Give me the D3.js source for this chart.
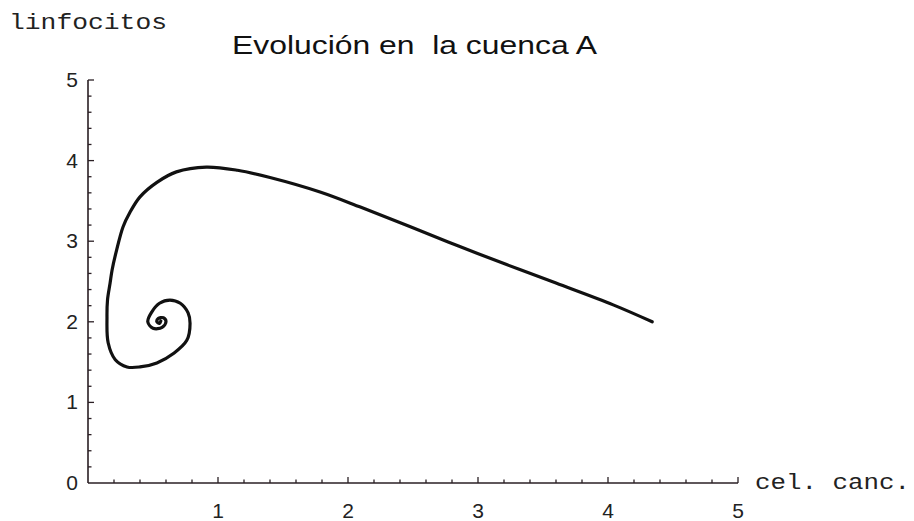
<!DOCTYPE html>
<html><head><meta charset="utf-8">
<script src="https://cdn.jsdelivr.net/npm/d3@7"></script>
<style>body{margin:0;background:#fff}svg{display:block}</style>
</head><body>
<script>
// Data: trajectory cel. canc. (x) vs linfocitos (y)
const celCanc = [4.34, 4.04, 3.60, 3.22, 2.85, 2.48, 2.10, 1.785, 1.40, 1.15, 0.91, 0.68, 0.53, 0.40, 0.32, 0.27, 0.22, 0.185, 0.17, 0.15, 0.146, 0.155, 0.21, 0.30, 0.40, 0.53, 0.66, 0.76, 0.785, 0.77, 0.71, 0.63, 0.55, 0.49, 0.46, 0.50, 0.57, 0.60, 0.58, 0.54, 0.53, 0.55, 0.56];
const linfocitos = [2.00, 2.21, 2.48, 2.71, 2.94, 3.18, 3.42, 3.61, 3.79, 3.88, 3.92, 3.86, 3.73, 3.55, 3.35, 3.18, 2.89, 2.64, 2.48, 2.27, 2.06, 1.74, 1.53, 1.44, 1.44, 1.49, 1.61, 1.77, 1.98, 2.11, 2.23, 2.27, 2.23, 2.12, 2.00, 1.92, 1.93, 2.00, 2.05, 2.04, 2.00, 1.98, 2.01];
const xTicks = [1, 2, 3, 4, 5];
const yTicks = [0, 1, 2, 3, 4, 5];
const title = "Evolución en\u00a0 la cuenca A";
const xLabel = "cel. canc.";
const yLabel = "linfocitos";

const W = 914, H = 521;
const svg = d3.select("body").append("svg").attr("width", W).attr("height", H);
const x = d3.scaleLinear().domain([0, 5]).range([88, 738]);
const y = d3.scaleLinear().domain([0, 5]).range([483, 80]);
const axisColor = "#2a1f24";

// x axis
const gx = svg.append("g").attr("transform", `translate(0,${y(0)})`);
gx.append("line").attr("x1", x(0)).attr("x2", x(5)).attr("stroke", axisColor).attr("stroke-width", 1.6);
const xMinor = d3.range(1, 26).map(i => i / 5);
gx.selectAll("line.t").data(xMinor).join("line").attr("class", "t")
  .attr("x1", d => x(d)).attr("x2", d => x(d)).attr("y1", 0)
  .attr("y2", d => Math.abs(d - Math.round(d)) < 1e-6 ? -6 : -3.5)
  .attr("stroke", axisColor).attr("stroke-width", 1.3);
gx.selectAll("text").data(xTicks).join("text")
  .attr("x", d => x(d)).attr("y", 35).attr("text-anchor", "middle")
  .attr("font-family", "Liberation Sans, Arial, sans-serif").attr("font-size", 21).attr("fill", "#222")
  .text(d => d);

// y axis
const gy = svg.append("g").attr("transform", `translate(${x(0)},0)`);
gy.append("line").attr("y1", y(0)).attr("y2", y(5)).attr("stroke", axisColor).attr("stroke-width", 1.6);
const yMinor = d3.range(1, 26).map(i => i / 5);
gy.selectAll("line.t").data(yMinor).join("line").attr("class", "t")
  .attr("y1", d => y(d)).attr("y2", d => y(d)).attr("x1", 0)
  .attr("x2", d => Math.abs(d - Math.round(d)) < 1e-6 ? 6 : 3.5)
  .attr("stroke", axisColor).attr("stroke-width", 1.3);
gy.selectAll("text").data(yTicks).join("text")
  .attr("x", -10).attr("y", d => y(d) + 7).attr("text-anchor", "end")
  .attr("font-family", "Liberation Sans, Arial, sans-serif").attr("font-size", 21).attr("fill", "#222")
  .text(d => d);

// labels
svg.append("text").attr("x", 9).attr("y", 29)
  .attr("font-family", "Liberation Mono, Courier New, monospace").attr("font-size", 22)
  .attr("textLength", 158).attr("lengthAdjust", "spacingAndGlyphs").attr("fill", "#222").text(yLabel);
svg.append("text").attr("x", 755).attr("y", 489)
  .attr("font-family", "Liberation Mono, Courier New, monospace").attr("font-size", 22)
  .attr("textLength", 155).attr("lengthAdjust", "spacingAndGlyphs").attr("fill", "#222").text(xLabel);
svg.append("text").attr("x", 232).attr("y", 54)
  .attr("font-family", "Liberation Sans, Arial, Helvetica, sans-serif").attr("font-size", 26)
  .attr("textLength", 365).attr("lengthAdjust", "spacingAndGlyphs").attr("fill", "#111").text(title);

// curve
const pts = celCanc.map((c, i) => [c, linfocitos[i]]);
const line = d3.line().x(d => x(d[0])).y(d => y(d[1])).curve(d3.curveCatmullRom.alpha(0.5));
svg.append("path").attr("d", line(pts)).attr("fill", "none")
  .attr("stroke", "#111").attr("stroke-width", 3.2).attr("stroke-linejoin", "round").attr("stroke-linecap", "round");
</script>
</body></html>
